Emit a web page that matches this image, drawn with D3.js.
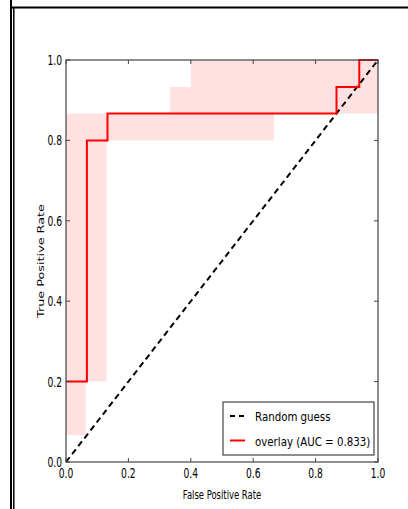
<!DOCTYPE html>
<html>
<head>
<meta charset="utf-8">
<script src="https://cdn.jsdelivr.net/npm/d3@7"></script>
<style>
  body { margin: 0; background: #fff; }
  text { font-family: "DejaVu Sans", sans-serif; fill: #000; }
</style>
</head>
<body>
<svg id="roc" width="408" height="509"></svg>
<script>
// ROC curve (step points)
var rocFpr = [0, 0.067, 0.133, 0.867, 0.94, 1.0];
var rocTpr = [0.2, 0.8, 0.867, 0.933, 1.0, 1.0];

// confidence band (step breakpoints)
var bandX     = [0, 0.064, 0.13, 0.333, 0.4, 0.667, 1.0];
var bandLower = [0.067, 0.2, 0.8, 0.8, 0.8, 0.867, 0.867];
var bandUpper = [0.867, 0.867, 0.867, 0.933, 1.0, 1.0, 1.0];

var tickVals = [0, 0.2, 0.4, 0.6, 0.8, 1.0];
var legendLabels = ["Random guess", "overlay (AUC = 0.833)"];

var svg = d3.select("#roc");
var margin = {top: 60, right: 30, bottom: 47, left: 66};
var width = 408 - margin.left - margin.right;   // 312
var height = 509 - margin.top - margin.bottom;  // 402

// frame around the picture
svg.append("line").attr("x1", 11).attr("x2", 11).attr("y1", 0).attr("y2", 509)
	.attr("stroke", "#000").attr("stroke-width", 2);
svg.append("line").attr("x1", 13.8).attr("x2", 13.8).attr("y1", 7).attr("y2", 509)
	.attr("stroke", "#000").attr("stroke-width", 1.5);
svg.append("line").attr("x1", 11).attr("x2", 408).attr("y1", 7.5).attr("y2", 7.5)
	.attr("stroke", "#000").attr("stroke-width", 2);

var g = svg.append("g").attr("transform", "translate(" + margin.left + "," + margin.top + ")");

var x = d3.scaleLinear().domain([0, 1]).range([0, width]);
var y = d3.scaleLinear().domain([0, 1]).range([height, 0]);

g.append("clipPath").attr("id", "clip")
	.append("rect").attr("width", width).attr("height", height);

var band = [];
for (var i = 0; i < bandX.length; i++) {
	band.push({x: bandX[i], lo: bandLower[i], hi: bandUpper[i]});
}
g.append("path")
	.datum(band)
	.attr("clip-path", "url(#clip)")
	.attr("fill", "#ffe1e1")
	.attr("d", d3.area().curve(d3.curveStepAfter)
		.x(function(d){ return x(d.x); })
		.y0(function(d){ return y(d.lo); })
		.y1(function(d){ return y(d.hi); }));

// random guess diagonal
g.append("line")
	.attr("x1", x(0)).attr("y1", y(0)).attr("x2", x(1)).attr("y2", y(1))
	.attr("stroke", "#000").attr("stroke-width", 2)
	.attr("stroke-dasharray", "6,4");

var roc = [];
for (var j = 0; j < rocFpr.length; j++) roc.push([rocFpr[j], rocTpr[j]]);
g.append("path")
	.datum(roc)
	.attr("fill", "none")
	.attr("stroke", "red")
	.attr("stroke-width", 2)
	.attr("d", d3.line().curve(d3.curveStepAfter)
		.x(function(d){ return x(d[0]); })
		.y(function(d){ return y(d[1]); }));

// spines + inward ticks on all sides
g.append("rect").attr("width", width).attr("height", height)
	.attr("fill", "none").attr("stroke", "#444").attr("stroke-width", 1.2);

tickVals.forEach(function(v){
	g.append("line").attr("x1", x(v)).attr("x2", x(v)).attr("y1", height).attr("y2", height - 4)
		.attr("stroke", "#444");
	g.append("line").attr("x1", x(v)).attr("x2", x(v)).attr("y1", 0).attr("y2", 4)
		.attr("stroke", "#444");
	g.append("line").attr("y1", y(v)).attr("y2", y(v)).attr("x1", 0).attr("x2", 4)
		.attr("stroke", "#444");
	g.append("line").attr("y1", y(v)).attr("y2", y(v)).attr("x1", width).attr("x2", width - 4)
		.attr("stroke", "#444");

	g.append("text")
		.attr("transform", "translate(" + x(v) + "," + (height + 16) + ") scale(0.68,1)")
		.attr("text-anchor", "middle")
		.style("font-size", "13.5px")
		.text(v.toFixed(1));
	g.append("text")
		.attr("transform", "translate(-4," + (y(v) + 5) + ") scale(0.68,1)")
		.attr("text-anchor", "end")
		.style("font-size", "13.5px")
		.text(v.toFixed(1));
});

// axis labels
g.append("text")
	.attr("transform", "translate(" + (width / 2) + "," + (height + 37) + ") scale(0.66,1)")
	.attr("text-anchor", "middle")
	.style("font-size", "12.8px")
	.text("False Positive Rate");

g.append("text")
	.attr("transform", "translate(-22," + (height / 2) + ") scale(0.7,1) rotate(-90)")
	.attr("text-anchor", "middle")
	.style("font-size", "12.8px")
	.text("True Positive Rate");

// legend
var lg = g.append("g").attr("transform", "translate(" + (width - 155) + "," + (height - 60) + ")");
lg.append("rect").attr("width", 151).attr("height", 53)
	.attr("fill", "#fff").attr("stroke", "#444").attr("stroke-width", 1.2);
lg.append("line").attr("x1", 7).attr("x2", 21).attr("y1", 14).attr("y2", 14)
	.attr("stroke", "#000").attr("stroke-width", 2).attr("stroke-dasharray", "5,4");
lg.append("line").attr("x1", 7).attr("x2", 22).attr("y1", 38.5).attr("y2", 38.5)
	.attr("stroke", "red").attr("stroke-width", 2);
legendLabels.forEach(function(t, k){
	lg.append("text")
		.attr("transform", "translate(32," + (19 + k * 25) + ") scale(0.8,1)")
		.style("font-size", "12.8px")
		.text(t);
});
</script>
</body>
</html>
